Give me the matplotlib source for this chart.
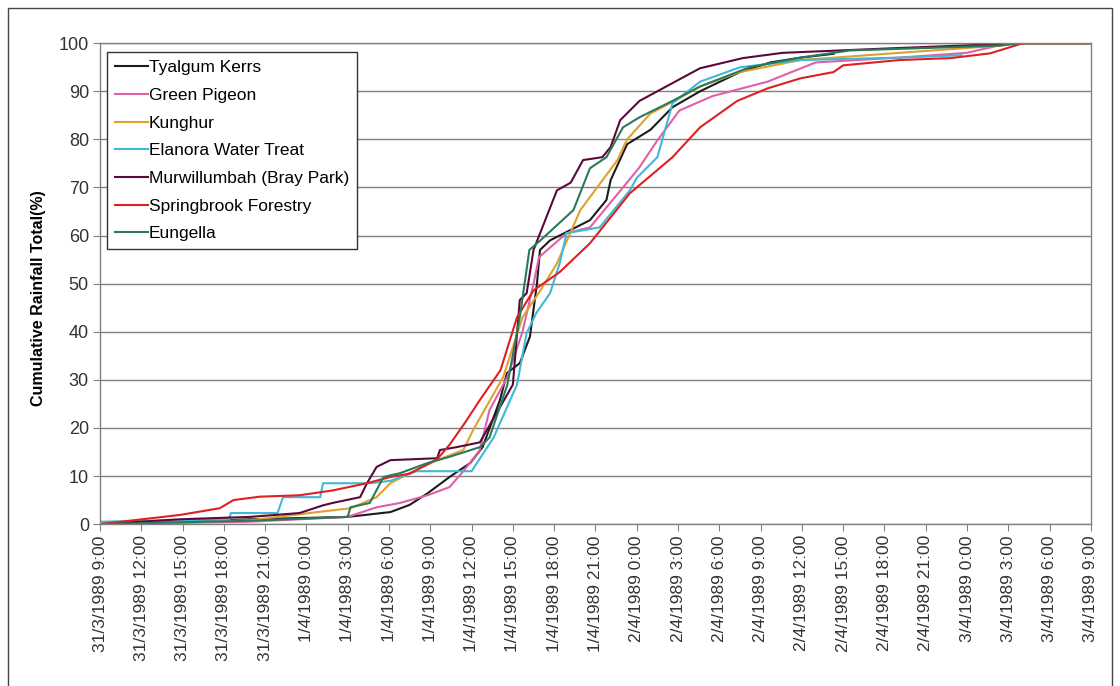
import matplotlib
matplotlib.use("Agg")
import matplotlib.pyplot as plt
from matplotlib.patches import Rectangle

plt.rcParams['font.family'] = ['Liberation Sans', 'DejaVu Sans']

# Time axis: hours elapsed since 31/3/1989 9:00
tick_hours = list(range(0, 73, 3))
tick_labels = ["31/3/1989 9:00", "31/3/1989 12:00", "31/3/1989 15:00", "31/3/1989 18:00",
               "31/3/1989 21:00", "1/4/1989 0:00", "1/4/1989 3:00", "1/4/1989 6:00",
               "1/4/1989 9:00", "1/4/1989 12:00", "1/4/1989 15:00", "1/4/1989 18:00",
               "1/4/1989 21:00", "2/4/1989 0:00", "2/4/1989 3:00", "2/4/1989 6:00",
               "2/4/1989 9:00", "2/4/1989 12:00", "2/4/1989 15:00", "2/4/1989 18:00",
               "2/4/1989 21:00", "3/4/1989 0:00", "3/4/1989 3:00", "3/4/1989 6:00",
               "3/4/1989 9:00"]

names = ["Tyalgum Kerrs", "Green Pigeon", "Kunghur", "Elanora Water Treat",
         "Murwillumbah (Bray Park)", "Springbrook Forestry", "Eungella"]
colors = ["#1c1c1c", "#e060a8", "#e0a030", "#40b8d8", "#5a0a3a", "#e02020", "#2a7a5a"]

tyalgum_t = [0, 5.8, 10.9, 18.0, 21.1, 22.5, 23.8, 25.4, 26.9, 27.8, 29.06, 29.57, 30.51,
             31.24, 31.75, 31.97, 32.7, 35.6, 36.8, 37.1, 38.3, 40.0, 41.6, 43.6, 46.5,
             48.7, 50.9, 53.3]
tyalgum_v = [0, 0.5, 1.0, 1.5, 2.5, 4.0, 6.4, 9.8, 12.7, 16.0, 25.8, 31.4, 33.5,
             39.0, 50.0, 57.0, 59.0, 63.2, 67.4, 71.5, 79.0, 82.0, 86.7, 90.0, 94.0,
             96.0, 97.0, 97.8]

pigeon_t = [0, 10.9, 18.0, 20.1, 21.8, 23.8, 25.4, 26.4, 27.6, 28.3, 29.6, 30.7, 31.5,
            31.9, 33.9, 35.6, 38.0, 39.2, 40.5, 42.1, 44.5, 48.5, 52.0, 58.0, 63.0, 66.0, 72]
pigeon_v = [0, 0.5, 1.5, 3.5, 4.4, 6.0, 7.7, 11.0, 15.4, 23.7, 30.6, 40.0, 50.0,
            55.5, 60.5, 61.7, 70.0, 74.2, 79.8, 86.0, 89.0, 92.0, 96.0, 97.0, 98.0, 100, 100]

kunghur_t = [0, 10.9, 15.8, 18.2, 20.1, 21.1, 22.5, 24.5, 26.4, 27.1, 29.3, 30.7, 32.0,
             33.2, 34.9, 37.6, 38.3, 40.0, 41.4, 43.6, 46.5, 50.9, 58.1, 65.4, 66.8, 72]
kunghur_v = [0, 0.8, 2.5, 3.3, 5.6, 8.5, 10.6, 13.3, 15.4, 19.5, 30.6, 43.0, 48.6,
             54.2, 65.3, 75.7, 80.0, 85.4, 87.5, 91.0, 94.0, 96.5, 98.0, 99.5, 100, 100]

elanora_t = [0, 9.4, 9.5, 12.9, 13.3, 16.0, 16.2, 19.6, 21.1, 23.0, 27.0, 28.6, 30.3,
             31.0, 31.7, 32.7, 33.4, 33.9, 36.3, 38.5, 39.0, 40.5, 41.6, 43.6, 46.5,
             50.9, 58.1, 62.6]
elanora_v = [0.5, 1.0, 2.3, 2.3, 5.6, 5.6, 8.5, 8.5, 9.0, 11.0, 11.0, 18.0, 29.0,
             39.7, 43.9, 48.0, 54.2, 60.5, 61.7, 69.4, 72.0, 76.3, 87.5, 92.0, 95.0,
             96.5, 97.0, 97.5]

murw_t = [0, 5.8, 10.9, 14.5, 16.2, 16.9, 18.9, 19.4, 20.1, 21.1, 24.5, 24.7, 25.9, 27.6,
          30.0, 30.5, 31.0, 31.5, 33.2, 34.2, 35.1, 36.5, 37.1, 37.8, 39.2, 43.6, 44.5,
          46.7, 49.6, 58.0, 67.0, 72]
murw_v = [0, 1.0, 1.5, 2.3, 3.9, 4.4, 5.6, 8.5, 11.9, 13.3, 13.7, 15.4, 16.0, 17.0,
          29.0, 46.6, 48.0, 57.0, 69.4, 71.0, 75.7, 76.3, 78.4, 84.0, 88.0, 94.8, 95.4,
          96.9, 98.0, 99.0, 100, 100]

spring_t = [0, 5.8, 8.7, 9.7, 11.6, 14.5, 16.9, 19.4, 21.1, 22.5, 24.5, 25.4, 26.5, 27.6,
            29.1, 30.3, 31.5, 33.4, 35.6, 38.5, 41.6, 43.6, 46.3, 48.5, 50.9, 53.3, 54.0,
            58.1, 61.8, 64.7, 66.6, 67.1, 72]
spring_v = [0, 1.9, 3.3, 5.0, 5.7, 6.0, 7.0, 8.5, 9.8, 10.5, 13.5, 16.5, 21.0, 25.8,
            32.0, 43.0, 48.6, 52.4, 58.4, 68.8, 76.3, 82.5, 88.0, 90.6, 92.7, 94.0, 95.4,
            96.5, 96.9, 97.9, 99.6, 100, 100]

eung_t = [0, 10.9, 18.0, 18.2, 19.6, 20.6, 21.8, 23.8, 25.4, 27.6, 28.3, 29.6, 30.5, 31.2,
          32.0, 34.4, 35.6, 36.8, 38.0, 39.2, 41.6, 43.6, 47.2, 50.9, 54.5, 65.4, 66.8, 72]
eung_v = [0, 0.7, 1.5, 3.5, 4.4, 9.8, 10.6, 12.7, 14.0, 16.0, 18.0, 29.0, 43.0, 57.0,
          59.0, 65.3, 74.0, 76.3, 82.5, 84.6, 88.0, 91.0, 95.0, 97.0, 98.5, 99.5, 100, 100]

series_t = [tyalgum_t, pigeon_t, kunghur_t, elanora_t, murw_t, spring_t, eung_t]
series_v = [tyalgum_v, pigeon_v, kunghur_v, elanora_v, murw_v, spring_v, eung_v]

fig = plt.figure(figsize=(11.2, 6.86), dpi=100)
ax = fig.add_axes([0.0893, 0.236, 0.8847, 0.701])

for t, v, c, n in zip(series_t, series_v, colors, names):
    ax.plot(t, v, color=c, lw=1.5, label=n)

ax.set_xlim(0, 72)
ax.set_ylim(0, 100)
ax.set_yticks(range(0, 101, 10))
ax.set_xticks(tick_hours)
ax.set_xticklabels(tick_labels, rotation=90, fontsize=12.5, color="#333333")
ax.tick_params(axis='y', labelsize=13, labelcolor="#333333", length=5, color="#808080", pad=3)
ax.tick_params(axis='x', length=5, color="#808080", pad=3)
ax.yaxis.grid(True, color="#808080", lw=1)
ax.set_axisbelow(True)
for s in ax.spines.values():
    s.set_color("#808080")
    s.set_linewidth(1)

ax.set_ylabel("Cumulative Rainfall Total(%)", fontsize=11.5, fontweight="bold")
ax.yaxis.set_label_coords(-0.055, 0.47)

leg = ax.legend(loc="upper left", bbox_to_anchor=(0.007, 0.981), fontsize=12.5,
                frameon=True, fancybox=False, edgecolor="#333333", framealpha=1,
                labelspacing=0.72, handlelength=1.9, handletextpad=0.05,
                borderpad=0.45, borderaxespad=0)
leg.get_frame().set_linewidth(1)

fig.patches.append(Rectangle((0.007, -0.02), 0.986, 1.008, transform=fig.transFigure,
                             fill=False, edgecolor="#444444", lw=1))

fig.savefig("out.png", dpi=100)
